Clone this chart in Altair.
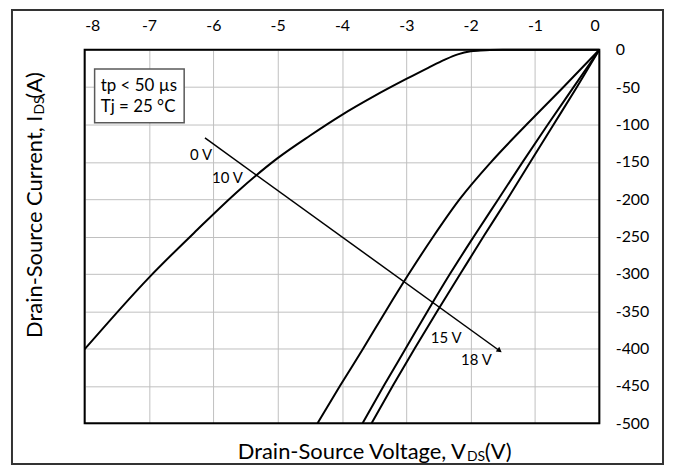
import altair as alt
import pandas as pd

FONT = "Lato"

# ---- data ----
curve_names = ["0 V", "10 V", "15 V", "18 V"]
v_0v = [0, -1.5, -1.7, -1.85, -2.0, -2.2, -2.4, -2.66, -3.0, -3.5, -4.0, -4.5, -5.0, -5.6, -6.25, -7.0, -8.0]
i_0v = [0, 0, -0.3, -1, -2, -6, -13, -24, -39, -62, -87, -115, -145, -188, -241, -305, -401]
v_10v = [0, -0.56, -1.13, -1.68, -2.17, -2.58, -2.96, -3.32, -3.67, -4.03, -4.38]
i_10v = [0, -50, -100, -150, -200, -250, -300, -350, -400, -450, -500]
v_15v = [0, -0.40, -0.80, -1.19, -1.57, -1.95, -2.32, -2.67, -3.01, -3.35, -3.68]
i_15v = [0, -50, -100, -150, -200, -250, -300, -350, -400, -450, -500]
v_18v = [0, -0.35, -0.71, -1.07, -1.43, -1.80, -2.16, -2.52, -2.87, -3.21, -3.54]
i_18v = [0, -50, -100, -150, -200, -250, -300, -350, -400, -450, -500]

x_ticks = [-8, -7, -6, -5, -4, -3, -2, -1, 0]
y_ticks = [0, -50, -100, -150, -200, -250, -300, -350, -400, -450, -500]

arrow_v = [-6.13, -1.55]
arrow_i = [-118, -403]

label_text = ["0 V", "10 V", "15 V", "18 V"]
label_v = [-6.19, -5.78, -2.38, -1.91]
label_i = [-141, -171, -386, -416]

note_lines = ["tp < 50 µs", "Tj = 25 °C"]
note_v = [-7.75, -7.75]
note_i = [-49, -77]
note_box = {"v1": -7.845, "v2": -6.453, "i1": -25.7, "i2": -97.7}

# ---- tables ----
rows = []
for name, vs, cs in zip(curve_names, [v_0v, v_10v, v_15v, v_18v], [i_0v, i_10v, i_15v, i_18v]):
    for v, c in zip(vs, cs):
        rows.append({"curve": name, "v": v, "i": c})
curves = pd.DataFrame(rows)
arrow = pd.DataFrame({"v": arrow_v, "i": arrow_i})
arrow_head = arrow.iloc[[1]]
labels = pd.DataFrame({"t": label_text, "v": label_v, "i": label_i})
notes = pd.DataFrame({"t": note_lines, "v": note_v, "i": note_i})
box = pd.DataFrame([note_box])
frame = pd.DataFrame([{"v1": x_ticks[0], "v2": x_ticks[-1], "i1": y_ticks[0], "i2": y_ticks[-1]}])

xscale = alt.Scale(domain=[-8, 0], nice=False, zero=False)
yscale = alt.Scale(domain=[-500, 0], nice=False, zero=False)

x_axis = alt.Axis(orient="top", values=x_ticks, title=None, grid=True, gridColor="#c0c0c0",
                  gridWidth=1, domain=False, ticks=False, labelPadding=16, labelFontSize=16,
                  labelFont=FONT, labelColor="black", labelExpr="'' + datum.value",
                  labelOverlap=False)
y_axis = alt.Axis(orient="right", values=y_ticks, title=None, grid=True, gridColor="#c0c0c0",
                  gridWidth=1, domain=False, ticks=False, labelPadding=16, labelFontSize=16,
                  labelFont=FONT, labelColor="black", labelExpr="'' + datum.value",
                  labelOverlap=False)


def xs(field="v"):
    return alt.X(field + ":Q", scale=xscale, axis=x_axis)


def ys(field="i"):
    return alt.Y(field + ":Q", scale=yscale, axis=y_axis)


lines = alt.Chart(curves).mark_line(color="black", strokeWidth=2, interpolate="monotone").encode(
    x=xs(), y=ys(), detail="curve:N",
)

arrow_line = alt.Chart(arrow).mark_line(color="black", strokeWidth=1.5).encode(x=xs(), y=ys())
arrow_tip = alt.Chart(arrow_head).mark_point(shape="triangle-right", filled=True, color="black",
                                             size=35, angle=36, opacity=1).encode(x=xs(), y=ys())

label_marks = alt.Chart(labels).mark_text(font=FONT, fontSize=15, color="black", align="center",
                                          baseline="middle").encode(x=xs(), y=ys(), text="t:N")

note_rect = alt.Chart(box).mark_rect(fill="white", stroke="#595959", strokeWidth=1.5).encode(
    x=xs("v1"), x2="v2:Q", y=ys("i1"), y2="i2:Q")
note_text = alt.Chart(notes).mark_text(font=FONT, fontSize=17, color="black", align="left",
                                       baseline="middle").encode(x=xs(), y=ys(), text="t:N")

plot_frame = alt.Chart(frame).mark_rect(fill="transparent", stroke="black", strokeWidth=2).encode(
    x=xs("v1"), x2="v2:Q", y=ys("i1"), y2="i2:Q")

one = alt.Data(values=[{}])
outer = alt.Chart(one).mark_rect(fill="transparent", stroke="#333333", strokeWidth=2).encode(
    x=alt.value(-73), x2=alt.value(581), y=alt.value(-40), y2=alt.value(416))

TF = 22
xt1 = alt.Chart(one).mark_text(text="Drain-Source Voltage, V", font=FONT, fontSize=TF, align="right",
                               baseline="middle", color="black").encode(x=alt.value(383), y=alt.value(404))
xt2 = alt.Chart(one).mark_text(text="DS", font=FONT, fontSize=14, align="left",
                               baseline="middle", color="black").encode(x=alt.value(384), y=alt.value(409))
xt3 = alt.Chart(one).mark_text(text="(V)", font=FONT, fontSize=TF, align="left",
                               baseline="middle", color="black").encode(x=alt.value(402), y=alt.value(404))

yt1 = alt.Chart(one).mark_text(text="Drain-Source Current, I", font=FONT, fontSize=TF, align="right",
                               baseline="middle", angle=270, color="black").encode(x=alt.value(-50), y=alt.value(66))
yt2 = alt.Chart(one).mark_text(text="DS", font=FONT, fontSize=14, align="left",
                               baseline="middle", angle=270, color="black").encode(x=alt.value(-45), y=alt.value(65))
yt3 = alt.Chart(one).mark_text(text="(A)", font=FONT, fontSize=TF, align="left",
                               baseline="middle", angle=270, color="black").encode(x=alt.value(-50), y=alt.value(49))

chart = alt.layer(
    lines, arrow_line, arrow_tip, label_marks, note_rect, note_text, plot_frame, outer,
    xt1, xt2, xt3, yt1, yt2, yt3,
).properties(
    width=517, height=375, autosize="none",
    padding={"left": 77, "top": 41, "right": 66, "bottom": 44},
).configure_view(stroke="transparent").configure(background="white")

chart.save("out.html", embed_options={"renderer": "svg", "actions": False})
